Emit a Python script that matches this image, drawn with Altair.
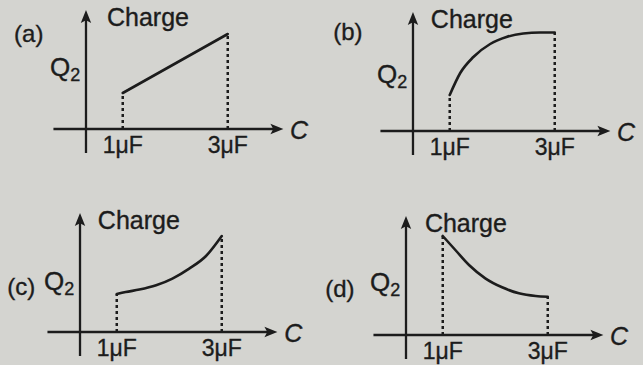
import altair as alt
import pandas as pd

# Capacitance ticks (µF) and their labels
tick_c = [1, 3]
tick_labels = ["1μF", "3μF"]

panel_names = ["(a)", "(b)", "(c)", "(d)"]

# Charge Q2 (arbitrary units) sampled along each curve, capacitance in µF
a_c = [1, 3]
a_q = [0.36, 0.95]
b_c = [1, 1.2, 1.45, 1.77, 2.08, 2.4, 2.72, 3]
b_q = [0.36, 0.58, 0.74, 0.87, 0.94, 0.975, 0.985, 0.985]
c_c = [1, 1.17, 1.43, 1.75, 2.06, 2.38, 2.70, 3]
c_q = [0.38, 0.40, 0.424, 0.467, 0.534, 0.634, 0.76, 0.96]
d_c = [1, 1.24, 1.5, 1.81, 2.13, 2.45, 2.77, 3]
d_q = [0.99, 0.85, 0.70, 0.567, 0.477, 0.417, 0.39, 0.383]

INK = "#1c1c1c"
PAPER = "#d4d4d0"
FONT = "Liberation Sans"
PX_PER_UF = 52.5
PX_PER_Q = 100.0

# axis geometry in data units
Y_AXIS_C = 0.3
X_AXIS_FROM, X_AXIS_TO = -0.32, 4.06
Y_AXIS_FROM, Y_AXIS_TO = -0.24, 1.19

ARROW_RIGHT = "M0,0L-1,-0.4L-0.78,0L-1,0.4Z"
ARROW_UP = "M0,0L-0.4,1L0,0.78L0.4,1Z"


def panel(name, cs, qs, xmin, width, ytop, height, q_y, letter_xy, charge_x):
    xs = alt.Scale(domain=[xmin, xmin + width / PX_PER_UF], nice=False, zero=False)
    ys = alt.Scale(domain=[ytop - height / PX_PER_Q, ytop], nice=False, zero=False)

    def X(field):
        return alt.X(f"{field}:Q", scale=xs, axis=None)

    def Y(field):
        return alt.Y(f"{field}:Q", scale=ys, axis=None)

    curve_df = pd.DataFrame({"c": cs, "q": qs})
    drops_df = pd.DataFrame({"c": [cs[0], cs[-1]], "q0": [0, 0], "q": [qs[0], qs[-1]]})

    curve = alt.Chart(curve_df).mark_line(
        interpolate="monotone", color=INK, strokeWidth=2.6, strokeCap="round"
    ).encode(x=X("c"), y=Y("q"))

    drops = alt.Chart(drops_df).mark_rule(
        color=INK, strokeWidth=2.5, strokeDash=[3, 3]
    ).encode(x=X("c"), y=Y("q0"), y2="q")

    x_axis = alt.Chart(pd.DataFrame({"c": [X_AXIS_FROM], "c2": [X_AXIS_TO - 0.15], "q": [0]})).mark_rule(
        color=INK, strokeWidth=2.3
    ).encode(x=X("c"), x2="c2", y=Y("q"))

    y_axis = alt.Chart(pd.DataFrame({"c": [Y_AXIS_C], "q": [Y_AXIS_FROM], "q2": [Y_AXIS_TO - 0.1]})).mark_rule(
        color=INK, strokeWidth=2.3
    ).encode(x=X("c"), y=Y("q"), y2="q2")

    arrow_x = alt.Chart(pd.DataFrame({"c": [X_AXIS_TO], "q": [0]})).mark_point(
        shape=ARROW_RIGHT, filled=True, size=676, color=INK, opacity=1, strokeWidth=0
    ).encode(x=X("c"), y=Y("q"))

    arrow_y = alt.Chart(pd.DataFrame({"c": [Y_AXIS_C], "q": [Y_AXIS_TO]})).mark_point(
        shape=ARROW_UP, filled=True, size=676, color=INK, opacity=1, strokeWidth=0
    ).encode(x=X("c"), y=Y("q"))

    def text(df, **kw):
        base = dict(font=FONT, color=INK, baseline="middle", stroke=INK, strokeWidth=0.35)
        base.update(kw)
        return alt.Chart(df).mark_text(**base).encode(x=X("c"), y=Y("q"), text="t:N")

    ticks = text(pd.DataFrame({"c": tick_c, "q": [-0.17] * 2, "t": tick_labels}), fontSize=23, align="center")
    charge = text(pd.DataFrame({"c": [charge_x], "q": [1.11], "t": ["Charge"]}), fontSize=25, align="left")
    q_main = text(pd.DataFrame({"c": [0.0], "q": [q_y], "t": ["Q"]}), fontSize=26, align="right")
    q_sub = text(pd.DataFrame({"c": [0.0], "q": [q_y - 0.08], "t": ["2"]}), fontSize=18, align="left")
    c_lab = text(pd.DataFrame({"c": [4.36], "q": [-0.02], "t": ["C"]}), fontSize=25, align="center", fontStyle="italic")
    letter = text(pd.DataFrame({"c": [letter_xy[0]], "q": [letter_xy[1]], "t": [name]}), fontSize=24, align="center")

    return alt.layer(
        x_axis, y_axis, arrow_x, arrow_y, drops, curve,
        ticks, charge, q_main, q_sub, c_lab, letter
    ).properties(width=width, height=height)


pa = panel(panel_names[0], a_c, a_q, -1.338, 322, 1.29, 183, 0.61, (-0.79, 0.94), 0.70)
pb = panel(panel_names[1], b_c, b_q, -1.433, 321, 1.31, 183, 0.56, (-0.94, 0.98), 0.64)
pc = panel(panel_names[2], c_c, c_q, -1.224, 322, 1.49, 182, 0.50, (-0.82, 0.44), 0.64)
pd_ = panel(panel_names[3], d_c, d_q, -1.300, 321, 1.52, 182, 0.52, (-0.96, 0.45), 0.66)

chart = alt.concat(pa, pb, pc, pd_, columns=2, spacing=0, bounds="flush").properties(
    padding=0, background=PAPER
).configure_view(stroke=None)

chart.save("out.html", embed_options={"renderer": "svg", "actions": False})
